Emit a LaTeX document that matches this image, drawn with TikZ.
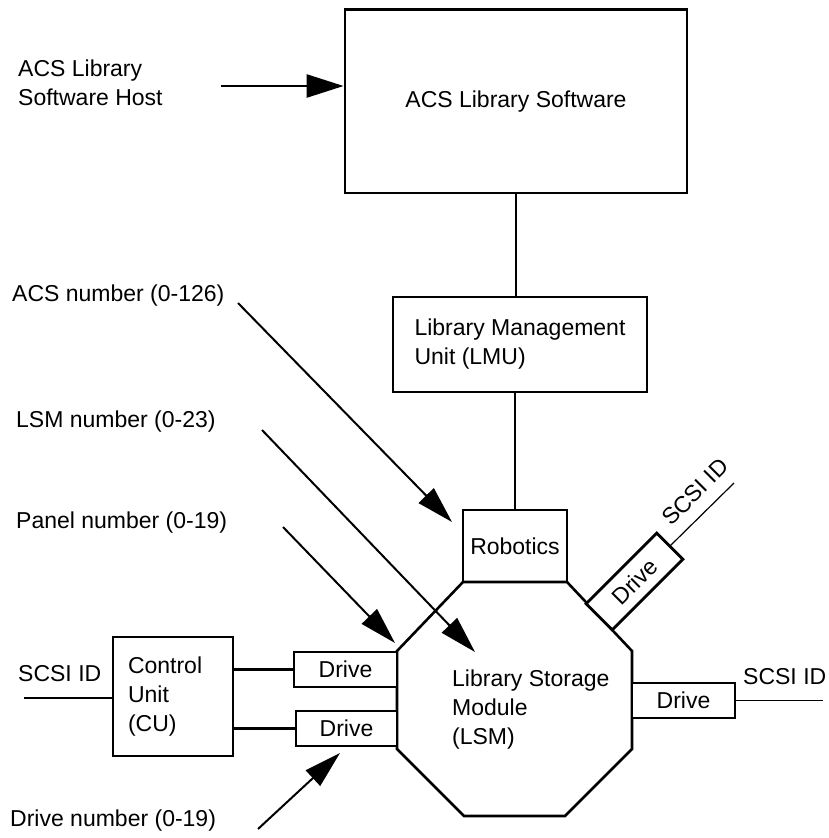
\documentclass[tikz,border=0pt]{standalone}
\usepackage{fontspec}
\setmainfont{Liberation Sans}
\usetikzlibrary{arrows.meta,calc}
\begin{document}
\begin{tikzpicture}[x=1pt,y=-1pt,
  every node/.style={font=\fontsize{23}{29}\selectfont, inner sep=0pt},
  box/.style={draw, line width=2.8pt},
  conn/.style={line width=2.6pt},
  thinline/.style={line width=1.2pt},
  arr/.style={line width=2pt, -{Triangle[length=37pt,width=21pt]}},
  hostarr/.style={line width=2.6pt, -{Triangle[length=37pt,width=23pt]}},
]
\useasboundingbox (0,0) rectangle (828,838);

% top
\node[box, minimum width=342pt, minimum height=183.5pt] (acs) at (516,101.25) {ACS Library Software};
\node[anchor=north west, align=left] (host) at (18,59.5) {ACS Library\\Software Host};
\coordinate (hoststart) at (221,86);
\draw[hostarr] (hoststart) -- (hoststart -| acs.west);

\node[box, minimum width=254pt, minimum height=95pt, align=left] (lmu) at (520,344.5) {Library Management\\Unit (LMU)};
\draw[conn] (acs.south) -- (acs.south |- lmu.north);

\node[box, minimum width=104pt, minimum height=72pt] (rob) at (515,546) {Robotics};
\draw[conn] (rob.north |- lmu.south) -- (rob.north);

% octagon
\coordinate (o1) at (463,582);
\coordinate (o2) at (567,582);
\coordinate (o3) at (632,651);
\coordinate (o4) at (632,749);
\coordinate (o5) at (565,816);
\coordinate (o6) at (464,816);
\coordinate (o7) at (397,749);
\coordinate (o8) at (397,651);
\draw[conn, line join=miter] (o1) -- (o2) -- (o3) -- (o4) -- (o5) -- (o6) -- (o7) -- (o8) -- cycle;
\node[anchor=north west, align=left] (lsm) at (452,670) {Library Storage\\Module\\(LSM)};

% right drive
\node[box, fill=white, minimum width=103pt, minimum height=35pt] (rdrive) at (683.5,700.5) {Drive};
\coordinate (rscsi) at (823,700.5);
\draw[thinline] (rdrive.east) -- (rscsi);
\node[anchor=base west] (rscsitxt) at (743,684) {SCSI ID};

% rotated drive
\node[box, fill=white, rotate=45, minimum width=100pt, minimum height=37pt] (tdrive) at (634.5,581.5) {Drive};
\coordinate (tscsi) at (734,483);
\draw[thinline] (tdrive.east) -- (tscsi);
\node[rotate=45] (tscsitxt) at (695,492) {SCSI ID};

% left drives and control unit
\node[box, fill=white, minimum width=103pt, minimum height=35pt] (ld1) at (345.5,669.5) {Drive};
\node[box, fill=white, minimum width=101pt, minimum height=35pt] (ld2) at (346.5,728.5) {Drive};
\node[box, minimum width=120pt, minimum height=119pt, text width=90pt, inner xsep=15pt, align=left] (cu) at (173,696.5) {Control\\Unit\\(CU)};
\draw[conn] (ld1.west -| cu.east) -- (ld1.west);
\draw[conn] (ld2.west -| cu.east) -- (ld2.west);
\coordinate (lscsi) at (24,698);
\draw[thinline] (lscsi) -- (lscsi -| cu.west);
\node[anchor=base west] (lscsitxt) at (18,681) {SCSI ID};

% labels with arrows
\node[anchor=base west] (acsnum) at (12,301) {ACS number (0-126)};
\node[anchor=base west] (lsmnum) at (16,427) {LSM number (0-23)};
\node[anchor=base west] (panelnum) at (16,528) {Panel number (0-19)};
\node[anchor=base west] (drivenum) at (10,826) {Drive number (0-19)};

\coordinate (a1s) at (238,303); \coordinate (a1e) at (452,522);
\coordinate (a2s) at (262,430); \coordinate (a2e) at (475,652);
\coordinate (a3s) at (283,527); \coordinate (a3e) at (395,643);
\coordinate (a4s) at (258,829); \coordinate (a4e) at (340,753);
\draw[arr] (a1s) -- (a1e);
\draw[arr] (a2s) -- (a2e);
\draw[arr] (a3s) -- (a3e);
\draw[arr] (a4s) -- (a4e);
\end{tikzpicture}
\end{document}
